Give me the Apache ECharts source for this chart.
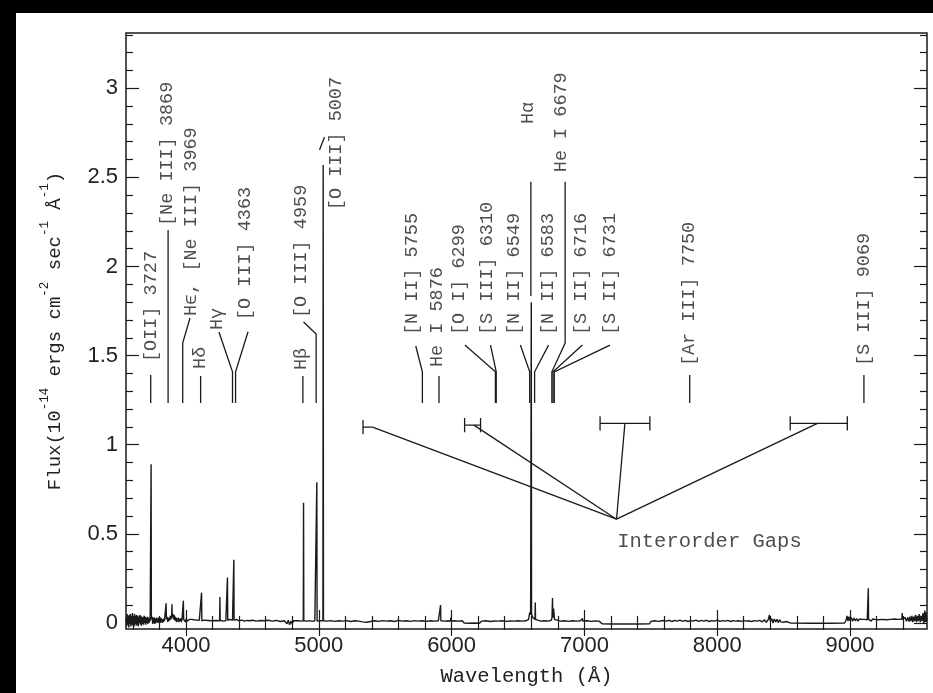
<!DOCTYPE html>
<html>
<head>
<meta charset="utf-8">
<script src="https://cdn.jsdelivr.net/npm/echarts@6/dist/echarts.min.js"></script>
<style>
  html, body { margin: 0; padding: 0; background: #fff; }
  #chart { width: 933px; height: 693px; }
</style>
</head>
<body>
<div id="chart"></div>
<script>
// Axis ranges (wavelength in Angstrom, flux in 1e-14 erg/cm^2/s/A)
const X_MIN = 3548, X_MAX = 9580;
const Y_MIN = -0.034, Y_MAX = 3.31;

// Tick positions
const xMajor = [4000, 5000, 6000, 7000, 8000, 9000];
const xMinor = [3600, 3800, 4200, 4400, 4600, 4800, 5200, 5400, 5600, 5800, 6200, 6400, 6600, 6800,
                7200, 7400, 7600, 7800, 8200, 8400, 8600, 8800, 9200, 9400];
const yMajor = [0, 0.5, 1, 1.5, 2, 2.5, 3];
const yMinor = [0.1, 0.2, 0.3, 0.4, 0.6, 0.7, 0.8, 0.9, 1.1, 1.2, 1.3, 1.4, 1.6, 1.7, 1.8, 1.9,
                2.1, 2.2, 2.3, 2.4, 2.6, 2.7, 2.8, 2.9, 3.1, 3.2, 3.3];

// Observed spectrum: [wavelength, flux]
const spectrum = [
  [3548, 0.03], [3553, -0.02], [3557, 0.05], [3561, -0.01], [3565, 0.04], [3569, -0.025], [3573, 0.045],
  [3577, 0.0], [3581, 0.05], [3585, -0.02], [3589, 0.04], [3593, -0.01], [3597, 0.055], [3601, -0.015],
  [3605, 0.035], [3609, -0.02], [3613, 0.05], [3617, 0.0], [3621, 0.04], [3625, -0.015], [3629, 0.045],
  [3633, -0.01], [3637, 0.04], [3641, -0.02], [3645, 0.035], [3649, 0.0], [3653, 0.045], [3657, -0.01],
  [3661, 0.04], [3665, -0.015], [3669, 0.03], [3673, -0.005], [3677, 0.035], [3681, -0.01], [3685, 0.04],
  [3689, 0.0], [3693, 0.035], [3697, -0.01], [3701, 0.03], [3705, 0.0], [3709, 0.035], [3713, -0.005],
  [3717, 0.03], [3721, 0.0], [3725, 0.03], [3730, 0.01], [3735, 0.02], [3737, 0.89], [3739, 0.02],
  [3745, 0.035], [3749, -0.005], [3753, 0.03], [3757, 0.0], [3761, 0.03], [3765, -0.005], [3769, 0.025],
  [3773, 0.0], [3777, 0.03], [3781, 0.005], [3785, 0.025], [3789, 0.0], [3793, 0.03], [3797, 0.005],
  [3801, 0.025], [3805, 0.0], [3809, 0.03], [3813, 0.005], [3817, 0.025], [3821, 0.0], [3825, 0.02],
  [3829, 0.005], [3833, 0.025], [3837, 0.01], [3841, 0.02], [3848, 0.015], [3850, 0.11], [3852, 0.02],
  [3858, 0.035], [3862, 0.005], [3866, 0.03], [3870, 0.01], [3874, 0.03], [3878, 0.015], [3882, 0.04],
  [3886, 0.02], [3892, 0.045], [3894, 0.105], [3896, 0.03], [3902, 0.05], [3906, 0.02], [3910, 0.045],
  [3914, 0.015], [3918, 0.035], [3922, 0.01], [3926, 0.03], [3930, 0.005], [3934, 0.025], [3938, 0.01],
  [3942, 0.03], [3946, 0.005], [3950, 0.025], [3955, 0.01], [3960, 0.025], [3965, 0.005], [3970, 0.02],
  [3978, 0.015], [3980, 0.125], [3982, 0.02], [3990, 0.03], [3996, 0.005], [4002, 0.025], [4008, 0.01],
  [4014, 0.02], [4020, 0.005], [4028, 0.02], [4036, 0.01], [4044, 0.02], [4052, 0.01], [4060, 0.018],
  [4070, 0.01], [4080, 0.016], [4090, 0.008], [4100, 0.015], [4115, 0.012], [4117, 0.17], [4119, 0.012],
  [4135, 0.016], [4150, 0.01], [4165, 0.014], [4180, 0.008], [4195, 0.012], [4210, 0.01], [4225, 0.014],
  [4240, 0.018], [4253, 0.012], [4255, 0.145], [4257, 0.015], [4270, 0.02], [4280, 0.01], [4290, 0.018],
  [4300, 0.012], [4310, 0.015], [4312, 0.255], [4314, 0.015], [4330, 0.02], [4340, 0.01], [4350, 0.015],
  [4358, 0.012], [4360, 0.355], [4362, 0.015], [4380, 0.02], [4400, 0.012], [4420, 0.016], [4440, 0.01],
  [4460, 0.014], [4480, 0.012], [4500, 0.015], [4530, 0.01], [4560, 0.014], [4590, 0.012], [4620, 0.015],
  [4650, 0.01], [4680, 0.014], [4710, 0.008], [4740, 0.012], [4760, -0.005], [4770, 0.015], [4780, -0.01],
  [4790, 0.01], [4800, -0.005], [4810, 0.012], [4825, 0.008], [4845, 0.012], [4865, 0.01], [4883, 0.012],
  [4885, 0.675], [4887, 0.012], [4910, 0.01], [4930, 0.013], [4950, 0.009], [4970, 0.012], [4983, 0.01],
  [4985, 0.79], [4987, 0.01], [5005, 0.012], [5020, 0.01], [5031, 0.012], [5033, 2.57], [5035, 0.012],
  [5060, 0.01], [5090, 0.013], [5120, 0.009], [5150, 0.012], [5180, 0.01], [5210, 0.013], [5240, 0.008],
  [5270, 0.012], [5300, 0.01], [5330, 0.006], [5360, 0.004], [5390, 0.008], [5420, 0.012], [5450, 0.009],
  [5480, 0.013], [5510, 0.01], [5540, 0.012], [5570, 0.008], [5600, 0.014], [5630, 0.01], [5660, 0.012],
  [5690, 0.009], [5720, 0.013], [5750, 0.01], [5780, 0.012], [5810, 0.009], [5840, 0.012], [5870, 0.01],
  [5900, 0.012], [5915, 0.012], [5917, 0.10], [5919, 0.012], [5950, 0.01], [5975, 0.012], [5992, 0.01],
  [5994, 0.03], [5996, 0.01], [6020, 0.012], [6050, 0.01], [6080, 0.012], [6095, 0.0], [6130, -0.002],
  [6170, 0.0], [6210, -0.002], [6225, 0.01], [6260, 0.012], [6290, 0.008], [6320, 0.011], [6350, 0.01],
  [6380, 0.012], [6410, 0.009], [6440, 0.011], [6470, 0.01], [6500, 0.012], [6530, 0.01], [6560, 0.012],
  [6580, 0.02], [6585, 0.045], [6590, 0.06], [6595, 0.045], [6598, 0.05], [6600, 1.80], [6602, 0.05],
  [6605, 0.045], [6612, 0.03], [6620, 0.02], [6628, 0.02], [6630, 0.115], [6632, 0.02], [6645, 0.012],
  [6670, 0.01], [6700, 0.012], [6730, 0.01], [6750, 0.015], [6756, 0.03], [6758, 0.03], [6760, 0.14],
  [6762, 0.03], [6766, 0.05], [6768, 0.08], [6773, 0.085], [6775, 0.02], [6790, 0.012], [6820, 0.01],
  [6850, 0.012], [6880, 0.009], [6910, 0.012], [6940, 0.01], [6970, 0.012], [6984, 0.01], [6986, 0.025],
  [6988, 0.01], [7020, 0.012], [7050, 0.009], [7080, 0.011], [7110, 0.01], [7125, 0.008], [7135, -0.005],
  [7200, -0.006], [7300, -0.006], [7400, -0.006], [7490, -0.005], [7500, 0.008], [7530, 0.012], [7560, 0.009],
  [7590, 0.014], [7620, 0.01], [7640, 0.015], [7660, 0.008], [7680, 0.014], [7700, 0.01], [7720, 0.016],
  [7740, 0.009], [7760, 0.014], [7780, 0.008], [7800, 0.013], [7820, 0.01], [7840, 0.016], [7860, 0.009],
  [7880, 0.014], [7900, 0.01], [7920, 0.015], [7940, 0.008], [7960, 0.013], [7980, 0.01], [8000, 0.016],
  [8020, 0.009], [8040, 0.013], [8060, 0.01], [8080, 0.014], [8100, 0.008], [8120, 0.013], [8140, 0.01],
  [8160, 0.012], [8180, 0.009], [8200, 0.013], [8220, 0.01], [8240, 0.012], [8260, 0.008], [8280, 0.013],
  [8300, 0.01], [8320, 0.014], [8340, 0.006], [8355, 0.018], [8370, 0.004], [8385, 0.02], [8393, 0.045],
  [8400, 0.01], [8410, 0.025], [8420, 0.0], [8430, 0.022], [8440, 0.005], [8450, 0.02], [8460, 0.002],
  [8470, 0.018], [8480, 0.006], [8490, 0.016], [8500, 0.004], [8510, 0.014], [8520, 0.008], [8535, 0.012],
  [8550, 0.0], [8700, -0.002], [8850, -0.002], [8960, 0.0], [8970, 0.015], [8978, 0.04], [8985, 0.01],
  [8992, 0.035], [9000, 0.012], [9010, 0.03], [9020, 0.01], [9030, 0.028], [9040, 0.012], [9050, 0.025],
  [9060, 0.01], [9070, 0.022], [9080, 0.012], [9090, 0.02], [9100, 0.01], [9110, 0.02], [9120, 0.012],
  [9130, 0.018], [9136, 0.015], [9138, 0.195], [9140, 0.02], [9150, 0.03], [9160, 0.01], [9170, 0.022],
  [9180, 0.012], [9190, 0.02], [9200, 0.01], [9215, 0.018], [9230, 0.012], [9245, 0.02], [9260, 0.01],
  [9275, 0.018], [9290, 0.012], [9305, 0.02], [9320, 0.014], [9335, 0.022], [9350, 0.012], [9365, 0.02],
  [9380, 0.015], [9391, 0.022], [9393, 0.056], [9395, 0.02], [9405, 0.012], [9415, 0.03], [9425, 0.01],
  [9435, 0.03], [9445, 0.008], [9452, 0.035], [9459, 0.01], [9466, 0.04], [9473, 0.005], [9480, 0.035],
  [9487, 0.01], [9494, 0.045], [9501, 0.005], [9508, 0.04], [9515, 0.01], [9522, 0.05], [9529, 0.005],
  [9536, 0.04], [9543, 0.01], [9550, 0.055], [9557, 0.0], [9563, 0.07], [9568, 0.005], [9573, 0.06], [9578, 0.01]
];

// Line identifications: label text, anchor (wavelength, flux) at the start of the rotated text
const lineNames = ['[OII] 3727', '[Ne III] 3869', 'H\u03f5, [Ne III] 3969', 'H\u03b4', 'H\u03b3', '[O III] 4363',
  'H\u03b2', '[O III] 4959', '[O III] 5007', '[N II] 5755', 'He I 5876', '[O I] 6299', '[S III] 6310',
  '[N II] 6549', 'H\u03b1', '[N II] 6583', 'He I 6679', '[S II] 6716', '[S II] 6731', '[Ar III] 7750', '[S III] 9069'];
const lineLabelWave = [3734, 3858, 4041, 4109, 4233, 4443, 4866, 4866, 5129, 5703, 5894, 6055, 6265,
  6468, 6576, 6730, 6828, 6978, 7191, 7791, 9104];
const lineLabelFlux = [1.464, 2.227, 1.722, 1.425, 1.643, 1.699, 1.419, 1.711, 2.316, 1.615, 1.436, 1.615, 1.615,
  1.615, 2.799, 1.615, 2.529, 1.615, 1.615, 1.441, 1.441];

// Leader lines from each label down to its line position
const lineLeaders = [
  [[3734, 1.391], [3734, 1.234]],
  [[3865, 2.204], [3865, 1.234]],
  [[4030, 1.711], [3975, 1.570], [3975, 1.234]],
  [[4110, 1.385], [4110, 1.234]],
  [[4248, 1.632], [4350, 1.409], [4350, 1.234]],
  [[4467, 1.634], [4373, 1.409], [4373, 1.234]],
  [[4880, 1.385], [4880, 1.234]],
  [[4885, 1.688], [4980, 1.621], [4980, 1.234]],
  [[5005, 2.653], [5043, 2.726]],
  [[5730, 1.554], [5780, 1.409], [5780, 1.234]],
  [[5905, 1.385], [5905, 1.234]],
  [[6100, 1.559], [6330, 1.409], [6330, 1.234]],
  [[6293, 1.559], [6336, 1.409], [6336, 1.234]],
  [[6518, 1.559], [6588, 1.409], [6588, 1.234]],
  [[6597, 2.475], [6597, 1.834]],
  [[6730, 1.559], [6625, 1.409], [6625, 1.234]],
  [[6855, 2.475], [6855, 1.570], [6755, 1.409], [6755, 1.234]],
  [[6985, 1.559], [6764, 1.409], [6764, 1.234]],
  [[7193, 1.559], [6773, 1.409], [6773, 1.234]],
  [[7793, 1.391], [7793, 1.234]],
  [[9105, 1.391], [9105, 1.234]]
];

// Interorder gaps: bracket extent, bracket level, leader start, common meeting point
const gapStart = [5333, 6098, 7118, 8550];
const gapEnd = [5405, 6218, 7493, 8980];
const gapLevel = [1.099, 1.110, 1.120, 1.120];
const gapEndTick = [false, true, true, true];
const gapLeaderWave = [5405, 6168, 7305, 8755];
const gapMeet = [7242, 0.582];
const gapText = 'Interorder Gaps';
const gapTextPos = [7247, 0.454];

const INK = '#1a1a1a';
const TEXT = '#222';
const MONO = '"Liberation Mono", "DejaVu Sans Mono", monospace';
const SANS = '"Liberation Sans", Arial, sans-serif';
const BRACKET_HALF = 0.04;

// Bracket and leader polylines for the gaps
const gapPolylines = [];
gapStart.forEach((s, i) => {
  const e = gapEnd[i], lv = gapLevel[i];
  gapPolylines.push([[s, lv - BRACKET_HALF], [s, lv + BRACKET_HALF]]);
  if (gapEndTick[i]) gapPolylines.push([[e, lv - BRACKET_HALF], [e, lv + BRACKET_HALF]]);
  gapPolylines.push([[s, lv], [e, lv]]);
  gapPolylines.push([[gapLeaderWave[i], lv], gapMeet]);
});

const chart = echarts.init(document.getElementById('chart'), null, { renderer: 'canvas' });

const baseX = { type: 'value', min: X_MIN, max: X_MAX, gridIndex: 0,
  axisLine: { show: false }, splitLine: { show: false } };
const baseY = { type: 'value', min: Y_MIN, max: Y_MAX, gridIndex: 0,
  axisLine: { show: false }, splitLine: { show: false } };
const tickStyle = { color: INK, width: 1.2 };

chart.setOption({
  animation: false,
  backgroundColor: '#fff',
  grid: { left: 126, top: 33, width: 801, height: 596, show: true,
          borderColor: INK, borderWidth: 1.5, backgroundColor: 'transparent' },
  xAxis: [
    Object.assign({}, baseX, {
      position: 'bottom',
      axisTick: { inside: true, length: 13, lineStyle: tickStyle, customValues: xMajor },
      axisLabel: { customValues: xMajor, margin: 6, fontFamily: SANS, fontSize: 22, color: TEXT,
                   formatter: v => String(v) },
      name: 'Wavelength (\u00c5)', nameLocation: 'middle', nameGap: 37,
      nameTextStyle: { fontFamily: MONO, fontSize: 20.5, color: TEXT }
    }),
    Object.assign({}, baseX, {
      position: 'bottom',
      axisTick: { inside: true, length: 7, lineStyle: tickStyle, customValues: xMinor },
      axisLabel: { show: false }
    }),
    Object.assign({}, baseX, {
      position: 'top',
      axisTick: { inside: true, length: 13, lineStyle: tickStyle, customValues: xMajor },
      axisLabel: { show: false }
    }),
    Object.assign({}, baseX, {
      position: 'top',
      axisTick: { inside: true, length: 7, lineStyle: tickStyle, customValues: xMinor },
      axisLabel: { show: false }
    })
  ],
  yAxis: [
    Object.assign({}, baseY, {
      position: 'left',
      axisTick: { inside: true, length: 13, lineStyle: tickStyle, customValues: yMajor },
      axisLabel: { customValues: yMajor, margin: 8, fontFamily: SANS, fontSize: 22, color: TEXT,
                   formatter: v => String(v) },
      name: '{n|Flux(10}{s|-14}{n| ergs cm}{s|-2}{n| sec}{s|-1}{n| \u00c5}{s|-1}{n|)}',
      nameLocation: 'middle', nameRotate: 90, nameGap: 62,
      nameTextStyle: {
        rich: {
          n: { fontFamily: MONO, fontSize: 19, color: TEXT, lineHeight: 26, verticalAlign: 'bottom' },
          s: { fontFamily: MONO, fontSize: 12.5, color: TEXT, lineHeight: 26, verticalAlign: 'top' }
        }
      }
    }),
    Object.assign({}, baseY, {
      position: 'left',
      axisTick: { inside: true, length: 7, lineStyle: tickStyle, customValues: yMinor },
      axisLabel: { show: false }
    }),
    Object.assign({}, baseY, {
      position: 'right',
      axisTick: { inside: true, length: 13, lineStyle: tickStyle, customValues: yMajor },
      axisLabel: { show: false }
    }),
    Object.assign({}, baseY, {
      position: 'right',
      axisTick: { inside: true, length: 7, lineStyle: tickStyle, customValues: yMinor },
      axisLabel: { show: false }
    })
  ],
  graphic: [
    // dark scanner edges along the top and left of the page
    { type: 'rect', left: 0, top: 0, shape: { width: 933, height: 13 }, style: { fill: '#000' }, z: 100 },
    { type: 'rect', left: 0, top: 0, shape: { width: 16, height: 693 }, style: { fill: '#000' }, z: 100 }
  ],
  series: [
    {
      name: 'spectrum', type: 'line', xAxisIndex: 0, yAxisIndex: 0,
      data: spectrum, showSymbol: false, symbol: 'none', smooth: false,
      lineStyle: { color: INK, width: 1.4 }, z: 3
    },
    {
      name: 'leaders', type: 'lines', coordinateSystem: 'cartesian2d', xAxisIndex: 0, yAxisIndex: 0,
      polyline: true,
      data: lineLeaders.concat(gapPolylines).map(c => ({ coords: c })),
      lineStyle: { color: INK, width: 1.3, opacity: 1 }, z: 2
    },
    {
      name: 'labels', type: 'scatter', xAxisIndex: 0, yAxisIndex: 0,
      symbolSize: 1, itemStyle: { color: 'rgba(0,0,0,0)' },
      data: lineNames.map((n, i) => ({ name: n, value: [lineLabelWave[i], lineLabelFlux[i]] })),
      label: { show: true, position: 'inside', formatter: '{b}', rotate: 90, align: 'left',
               verticalAlign: 'middle', fontFamily: MONO, fontSize: 18.5, color: TEXT },
      z: 4
    },
    {
      name: 'gapText', type: 'scatter', xAxisIndex: 0, yAxisIndex: 0,
      symbolSize: 1, itemStyle: { color: 'rgba(0,0,0,0)' },
      data: [{ name: gapText, value: gapTextPos }],
      label: { show: true, position: 'inside', formatter: '{b}', align: 'left', verticalAlign: 'middle',
               fontFamily: MONO, fontSize: 20.5, color: TEXT },
      z: 4
    }
  ]
});
</script>
</body>
</html>
